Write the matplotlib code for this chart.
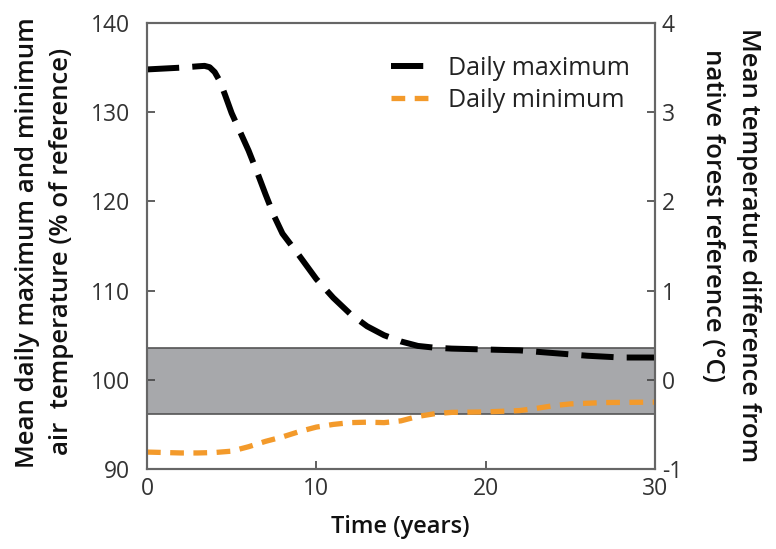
import matplotlib
matplotlib.use("Agg")
import matplotlib.pyplot as plt
from matplotlib.lines import Line2D

plt.rcParams["font.family"] = "Open Sans"
plt.rcParams["axes.unicode_minus"] = False

# Data
years_max = [0, 1, 2, 3, 3.4, 3.7, 4.0, 4.3, 4.6, 5, 5.5, 6, 6.5, 7, 7.5, 8, 9, 10,
             11, 12, 13, 14, 15, 16, 17, 18, 20, 22, 24, 26, 28, 30]
daily_max = [134.8, 134.9, 135.0, 135.15, 135.2, 135.05, 134.5, 133.5, 132.0, 129.9,
             127.8, 125.7, 123.3, 120.8, 118.4, 116.4, 113.9, 111.3, 109.2, 107.4,
             106.0, 105.0, 104.3, 103.8, 103.6, 103.5, 103.4, 103.3, 103.0, 102.7,
             102.5, 102.5]

years_min = [0, 1, 2, 3, 4, 5, 6, 7, 8, 9, 10, 11, 12, 13, 14, 15, 16, 17, 18,
             20, 22, 23, 24, 25, 27, 30]
daily_min = [91.9, 91.85, 91.8, 91.8, 91.85, 92.0, 92.5, 93.1, 93.6, 94.2, 94.7,
             95.0, 95.2, 95.25, 95.2, 95.4, 95.9, 96.2, 96.35, 96.4, 96.55, 96.8,
             97.1, 97.3, 97.45, 97.5]

band_low, band_high = 96.2, 103.6

black_style = dict(color="black", lw=4.3, dashes=(5.4, 2.2))
orange_style = dict(color="#f39a2b", lw=3.8, dashes=(2.6, 1.8))

fig = plt.figure(figsize=(7.76, 5.49), dpi=100)
ax = fig.add_axes([0.1894, 0.1457, 0.6547, 0.8123])

ax.axhspan(band_low, band_high, facecolor="#a7a8ab", edgecolor="#555555", lw=1.2, zorder=1)
ax.plot(years_max, daily_max, zorder=3, **black_style)
ax.plot(years_min, daily_min, zorder=3, **orange_style)

ax.set_xlim(0, 30)
ax.set_ylim(90, 140)
ax.set_xticks([0, 10, 20, 30])
ax.set_yticks([90, 100, 110, 120, 130, 140])
ax.tick_params(direction="in", length=6, width=1.2, colors="#444444",
               labelcolor="#333333", labelsize=16.5)
ax.tick_params(axis="y", pad=12)
ax.tick_params(axis="x", pad=6)
for s in ax.spines.values():
    s.set_color("#666666")
    s.set_linewidth(1.5)

ax2 = ax.twinx()
ax2.set_ylim(-1, 4)
ax2.set_yticks([-1, 0, 1, 2, 3, 4])
ax2.tick_params(direction="in", length=6, width=1.2, colors="#444444",
                labelcolor="#333333", labelsize=16.5, pad=5)
for s in ax2.spines.values():
    s.set_color("#666666")
    s.set_linewidth(1.5)

lab = dict(fontsize=18.5, fontweight="semibold", color="#111111",
           ha="center", va="center")
fig.text(400 / 776, 1 - 527 / 549, "Time (years)", **dict(lab, fontsize=17))
fig.text(28 / 776, 1 - 243 / 549, "Mean daily maximum and minimum", rotation=90, **lab)
fig.text(62 / 776, 1 - 251 / 549, "air  temperature (% of reference)", rotation=90, **lab)
fig.text(748 / 776, 1 - 245 / 549, "Mean temperature difference from", rotation=270, **lab)
fig.text(712 / 776, 1 - 215 / 549, "native forest reference (°C)", rotation=270, **lab)

handles = [Line2D([], [], **black_style), Line2D([], [], **orange_style)]
ax.legend(handles, ["Daily maximum", "Daily minimum"], loc="upper left",
          bbox_to_anchor=(0.455, 0.955), frameon=False, fontsize=18,
          handlelength=1.8, handletextpad=0.5, labelspacing=0.3, borderpad=0,
          labelcolor="#222222")

fig.savefig("out.png", dpi=100)
